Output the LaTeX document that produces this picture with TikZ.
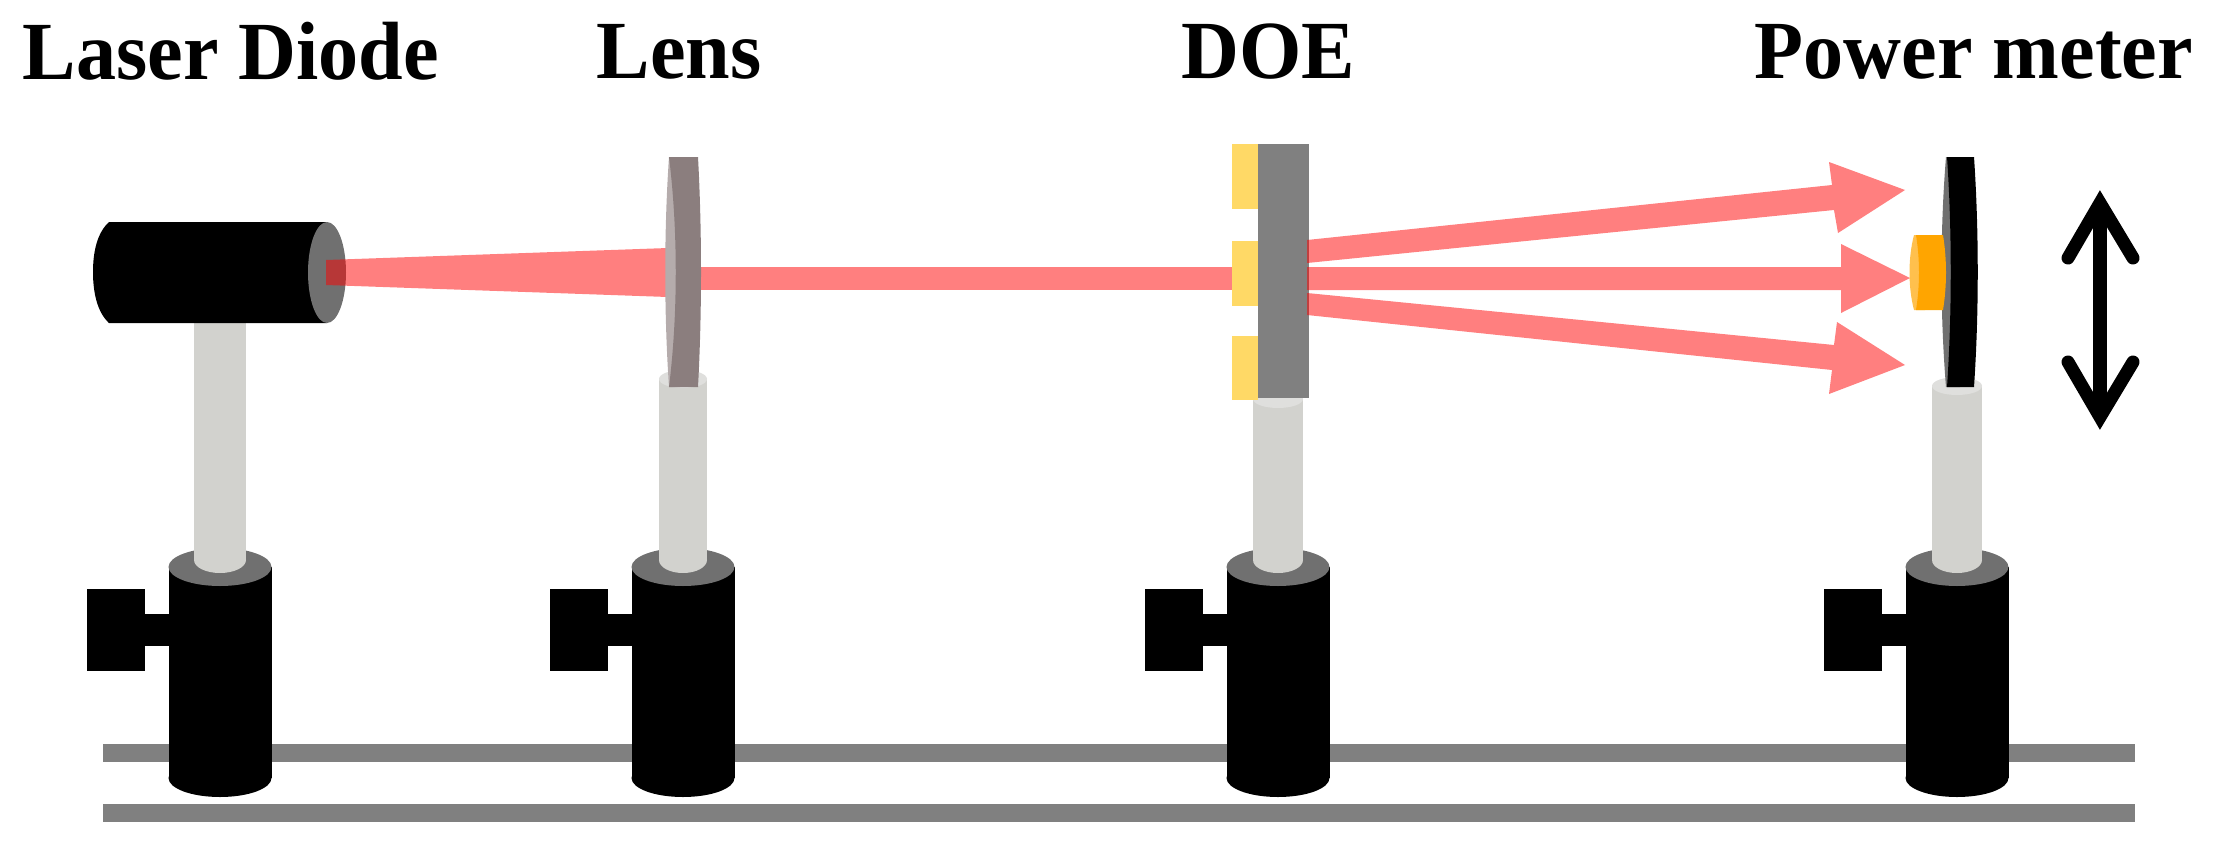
\documentclass[tikz,border=0pt]{standalone}
\usepackage{fontspec}
\setmainfont[FakeStretch=0.97]{Liberation Serif}
\definecolor{tige}{RGB}{210,210,206}
\definecolor{capot}{RGB}{112,112,112}
\definecolor{rail}{RGB}{128,128,128}
\definecolor{lentille}{RGB}{139,126,126}
\definecolor{reflet}{RGB}{181,172,172}
\definecolor{motif}{RGB}{255,217,102}
\definecolor{capteur}{RGB}{255,165,0}
\definecolor{bord}{RGB}{255,192,77}
\begin{document}
\begin{tikzpicture}[x=0.01cm,y=-0.01cm]
	\tikzstyle{titre}=[font=\bfseries\fontsize{23.5}{26}\selectfont,inner sep=0pt,anchor=base]
	\tikzstyle{noir}=[fill=black]
	\tikzstyle{faisceau}=[fill=red,opacity=0.5]
	\tikzstyle{fleche}=[line width=3.7pt,line join=miter,line cap=round]
	\def\HautSupport{567}\def\BasSupport{778}\def\DemiSupport{51.5}
	\useasboundingbox (0,0) rectangle (2214,848);
	%
	\node[titre] (laser) at (231,79) {Laser Diode};
	\node[titre] (lens) at (679,78) {Lens};
	\node[titre] (doe) at (1268,78) {DOE};
	\node[titre] (meter) at (1974,78) {Power meter};
	%
	\fill[rail] (103,744) rectangle (2135,762);
	\fill[rail] (103,804) rectangle (2135,822);
	% supports et tiges
	\foreach \Xpos/\Demi/\Haut in {220/26/300,683/24/370,1278/25/390,1957/25/377}{
		\fill[noir] (\Xpos-\DemiSupport,\HautSupport) rectangle (\Xpos+\DemiSupport,\BasSupport);
		\fill[noir] (\Xpos,\BasSupport) ellipse [x radius=\DemiSupport,y radius=19];
		\fill[capot] (\Xpos,\HautSupport) ellipse [x radius=\DemiSupport,y radius=19];
		\fill[tige] (\Xpos-\Demi,\Haut+9) rectangle (\Xpos+\Demi,560);
		\fill[tige] (\Xpos,560) ellipse [x radius=\Demi,y radius=13];
		\fill[tige!70!white] (\Xpos,\Haut+9) ellipse [x radius=\Demi,y radius=9];
		\fill[noir] (\Xpos-133,589) rectangle (\Xpos-75,671);
		\fill[noir] (\Xpos-75,614) rectangle (\Xpos-50,646);
	}
	% diode
	\fill[noir] (109,222) -- (327,222) -- (327,323) -- (109,323) .. controls (97,312) and (93,292) .. (93,272) .. controls (93,252) and (97,233) .. (109,222) -- cycle;
	\fill[capot] (327,272.5) ellipse [x radius=19,y radius=50.5];
	% faisceaux
	\fill[faisceau] (326,260) -- (668,248) -- (668,297) -- (326,285) -- cycle;
	\fill[faisceau] (700,267) rectangle (1234,290);
	% lentille
	\fill[reflet] (669,157) .. controls (664,230) and (664,314) .. (669,387) -- (680,387) -- (680,157) -- cycle;
	\fill[lentille] (669,157) -- (698,157) .. controls (702,230) and (702,314) .. (698,387) -- (669,387) .. controls (678,314) and (678,230) .. (669,157) -- cycle;
	% element diffractif
	\foreach \Haut/\Bas in {144/209,241/306,336/400}{
		\fill[motif] (1232,\Haut) rectangle (1258,\Bas);
	}
	\fill[rail] (1258,144) rectangle (1309,398);
	% capteur
	\fill[capot] (1946,157) .. controls (1940,230) and (1940,314) .. (1946,387) -- (1960,387) -- (1960,157) -- cycle;
	\fill[noir] (1947,157) -- (1974,157) .. controls (1979,230) and (1979,314) .. (1974,387) -- (1947,387) .. controls (1952,314) and (1952,230) .. (1947,157) -- cycle;
	\fill[bord] (1914,235) .. controls (1908,258) and (1908,287) .. (1914,310) -- (1925,310) -- (1925,235) -- cycle;
	\fill[capteur] (1916,235) -- (1943,235) .. controls (1947,260) and (1947,285) .. (1943,310) -- (1916,310) .. controls (1920,285) and (1920,260) .. (1916,235) -- cycle;
	% fleches rouges
	\fill[faisceau] (1307,240) -- (1832,185) -- (1829,162) -- (1905,190) -- (1838,233) -- (1834,210) -- (1307,263) -- cycle;
	\fill[faisceau] (1307,267) -- (1841,267) -- (1841,244) -- (1910,278) -- (1841,313) -- (1841,290) -- (1307,290) -- cycle;
	\fill[faisceau] (1307,293) -- (1834,345) -- (1837,322) -- (1905,365) -- (1829,394) -- (1832,370) -- (1307,315) -- cycle;
	% double fleche
	\draw[line width=4pt] (2100,205) -- (2100,415);
	\draw[fleche] (2068,258) -- (2100,203) -- (2133,258);
	\draw[fleche] (2068,362) -- (2100,417) -- (2133,362);
\end{tikzpicture}
\end{document}
